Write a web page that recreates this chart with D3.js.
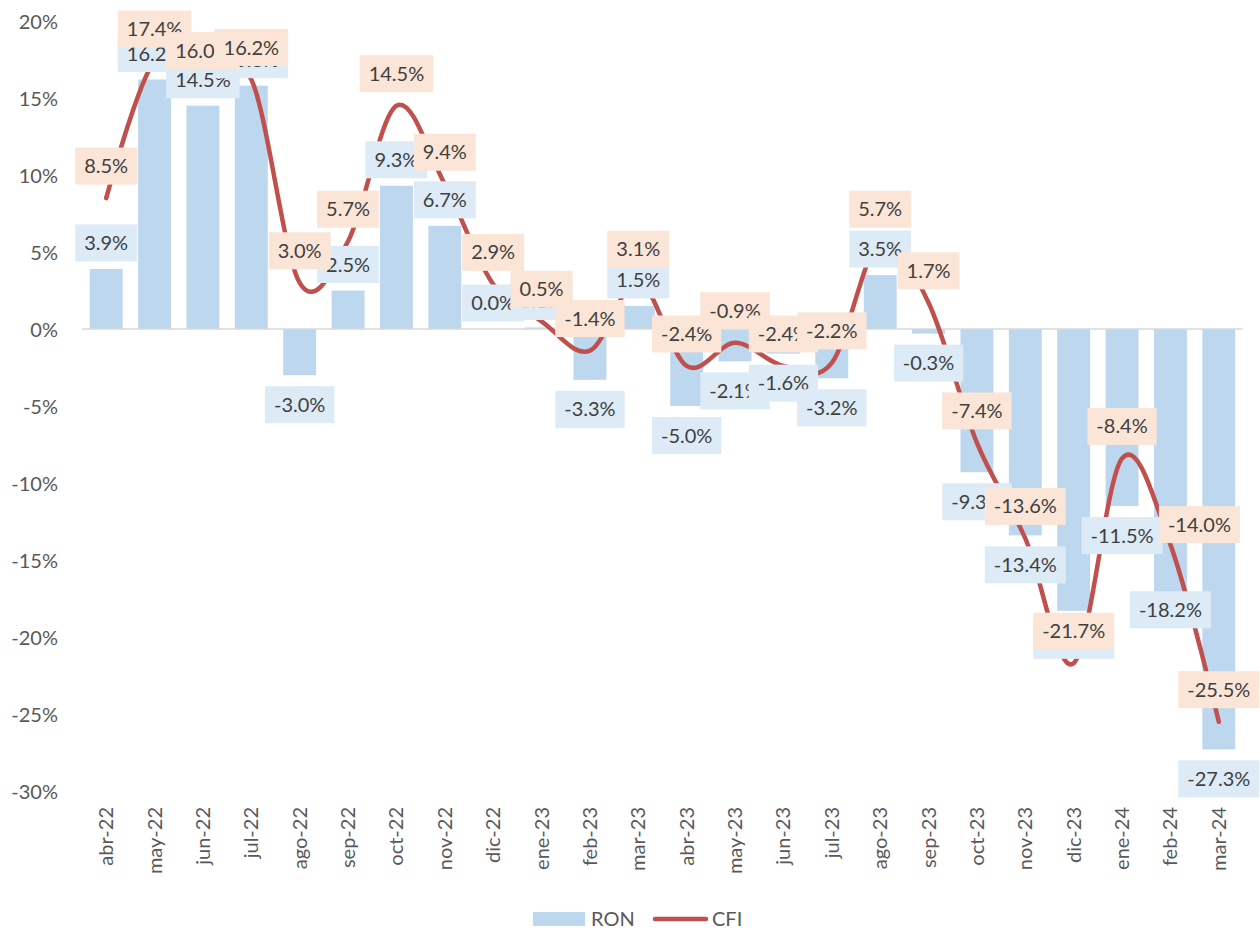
<!DOCTYPE html>
<html>
<head>
<meta charset="utf-8">
<script src="https://cdn.jsdelivr.net/npm/d3@7"></script>
<style>
  body { margin: 0; background: #fff; }
  svg text { font-family: Lato, "Open Sans", sans-serif; }
</style>
</head>
<body>
<div id="chart"></div>
<script>
// Months shown on the x axis
const months = ['abr-22', 'may-22', 'jun-22', 'jul-22', 'ago-22', 'sep-22', 'oct-22', 'nov-22',
  'dic-22', 'ene-23', 'feb-23', 'mar-23', 'abr-23', 'may-23', 'jun-23', 'jul-23',
  'ago-23', 'sep-23', 'oct-23', 'nov-23', 'dic-23', 'ene-24', 'feb-24', 'mar-24'];

// RON (bars), in %
const ron = [3.9, 16.2, 14.5, 15.8, -3.0, 2.5, 9.3, 6.7, 0.0, 0.1, -3.3, 1.5,
  -5.0, -2.1, -1.6, -3.2, 3.5, -0.3, -9.3, -13.4, -18.3, -11.5, -18.2, -27.3];

// CFI (line), in %
const cfi = [8.5, 17.4, 16.0, 16.2, 3.0, 5.7, 14.5, 9.4, 2.9, 0.5, -1.4, 3.1,
  -2.4, -0.9, -2.4, -2.2, 5.7, 1.7, -7.4, -13.6, -21.7, -8.4, -14.0, -25.5];

const yTicks = [20, 15, 10, 5, 0, -5, -10, -15, -20, -25, -30];

const W = 1260, H = 931;
const plot = { left: 82, right: 1243, top: 21, bottom: 791 };

const svg = d3.select('#chart').append('svg')
  .attr('width', W)
  .attr('height', H);

const x = d3.scaleBand()
  .domain(months)
  .range([plot.left, plot.right])
  .paddingInner(0.32)
  .paddingOuter(0.16);

const y = d3.scaleLinear()
  .domain([-30, 20])
  .range([plot.bottom, plot.top]);

const cx = d => x(d) + x.bandwidth() / 2;
const fmt = v => v.toFixed(1) + '%';

// y axis labels (no line, no ticks)
const yAxis = d3.axisLeft(y).tickValues(yTicks).tickSize(0).tickPadding(0)
  .tickFormat(d => d + '%');
const ya = svg.append('g')
  .attr('transform', 'translate(58,0)')
  .call(yAxis);
ya.select('.domain').remove();
ya.selectAll('text')
  .style('font-size', '20px')
  .style('fill', '#595959')
  .attr('dy', '0.35em');

// bars
svg.append('g').selectAll('rect')
  .data(months)
  .enter().append('rect')
  .attr('x', d => x(d))
  .attr('width', x.bandwidth())
  .attr('y', (d, i) => y(Math.max(0, ron[i])))
  .attr('height', (d, i) => Math.abs(y(ron[i]) - y(0)))
  .attr('fill', '#BDD7EE');

// zero line
svg.append('line')
  .attr('x1', plot.left).attr('x2', plot.right)
  .attr('y1', y(0)).attr('y2', y(0))
  .attr('stroke', '#D9D9D9')
  .attr('stroke-width', 1.5);

// CFI smoothed line
const line = d3.line()
  .x((d, i) => cx(months[i]))
  .y(d => y(d))
  .curve(d3.curveCardinal.tension(0));

svg.append('path')
  .datum(cfi)
  .attr('d', line)
  .attr('fill', 'none')
  .attr('stroke', '#C0504D')
  .attr('stroke-width', 4.5)
  .attr('stroke-linecap', 'round');

// x axis labels, rotated
const xa = svg.append('g')
  .attr('transform', `translate(0,${plot.bottom + 16})`)
  .call(d3.axisBottom(x).tickSize(0).tickPadding(0));
xa.select('.domain').remove();
xa.selectAll('text')
  .style('font-size', '20px')
  .style('fill', '#595959')
  .attr('transform', 'rotate(-90)')
  .attr('x', 0)
  .attr('y', 0)
  .attr('dy', '0.35em')
  .style('text-anchor', 'end');

// data labels with boxes; a few were dragged by hand in the original
function drawLabels(values, bg, placer, nudge) {
  const g = svg.append('g');
  values.forEach((v, i) => {
    const lg = g.append('g');
    const t = lg.append('text')
      .text(fmt(v))
      .style('font-size', '20px')
      .style('fill', '#404040')
      .attr('text-anchor', 'middle')
      .attr('dy', '0.35em');
    const tw = t.node().getComputedTextLength();
    const bw = tw + 18, bh = 37;
    const n = nudge[months[i]] || [0, 0];
    let px = cx(months[i]) + n[0];
    const py = placer(v, i) + n[1];
    if (px + bw / 2 > W) px = W - bw / 2;
    lg.insert('rect', 'text')
      .attr('x', px - bw / 2)
      .attr('y', py - bh / 2)
      .attr('width', bw)
      .attr('height', bh)
      .attr('fill', bg);
    t.attr('x', px).attr('y', py);
  });
}

drawLabels(ron, '#DDEBF7', v => v >= 0 ? y(v) - 26 : y(v) + 29.5, { 'feb-24': [0, -29] });
drawLabels(cfi, '#FBE5D6', v => y(v) - 32, { 'feb-24': [29, 12] });

// legend
const leg = svg.append('g');
leg.append('rect')
  .attr('x', 533).attr('y', 912)
  .attr('width', 52).attr('height', 14)
  .attr('fill', '#BDD7EE');
leg.append('text')
  .attr('x', 591).attr('y', 919).attr('dy', '0.35em')
  .style('font-size', '20px').style('fill', '#595959')
  .text('RON');
leg.append('line')
  .attr('x1', 655).attr('x2', 706)
  .attr('y1', 919).attr('y2', 919)
  .attr('stroke', '#C0504D')
  .attr('stroke-width', 4.5)
  .attr('stroke-linecap', 'round');
leg.append('text')
  .attr('x', 712).attr('y', 919).attr('dy', '0.35em')
  .style('font-size', '20px').style('fill', '#595959')
  .text('CFI');
</script>
</body>
</html>
